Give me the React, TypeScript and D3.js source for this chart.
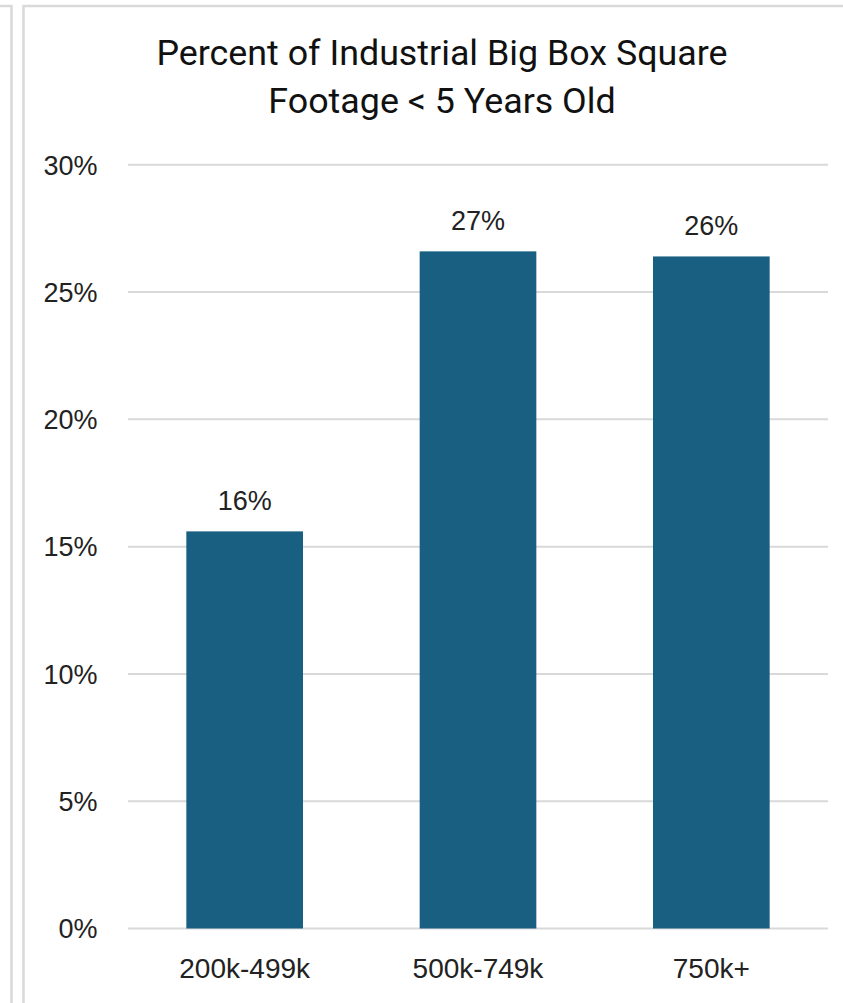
import React from "react";
import * as d3 from "d3";

const categories = ["200k-499k", "500k-749k", "750k+"];
const values = [15.6, 26.6, 26.4];
const valueLabels = ["16%", "27%", "26%"];
const yTicks = [0, 5, 10, 15, 20, 25, 30];
const titleLines = ["Percent of Industrial Big Box Square", "Footage < 5 Years Old"];

const W = 843;
const H = 1003;

export default function App() {
  const x = d3.scaleBand<string>().domain(categories).range([128, 828]).paddingInner(0.5).paddingOuter(0.25);
  const y = d3.scaleLinear().domain([0, 30]).range([928.5, 164.8]);
  const grid = "#d9d9d9";
  const font = "'Liberation Sans', Arial, sans-serif";
  return (
    <svg width={W} height={H} style={{ position: "absolute", left: 0, top: 0, background: "#fff" }}>
      <rect x={0} y={0} width={W} height={H} fill="#fff" />
      {/* frame lines */}
      <path d={`M0,6 H11.5 V${H}`} fill="none" stroke={grid} strokeWidth={2.5} />
      <path d={`M23.5,${H} V6 H${W}`} fill="none" stroke={grid} strokeWidth={2.5} />
      {/* title */}
      {titleLines.map((t, i) => (
        <text key={t} x={442} y={65 + i * 47.5} textAnchor="middle" fontFamily="Roboto, sans-serif" fontSize={35.8} fill="#111">
          {t}
        </text>
      ))}
      {/* gridlines */}
      {yTicks.map((t) => (
        <g key={t}>
          <line x1={128} x2={828} y1={y(t)} y2={y(t)} stroke={grid} strokeWidth={2} />
          <text x={97.5} y={y(t)} dy="0.36em" textAnchor="end" fontFamily={font} fontSize={27} fill="#222">
            {t}%
          </text>
        </g>
      ))}
      {/* bars */}
      {categories.map((c, i) => (
        <g key={c}>
          <rect x={x(c)} y={y(values[i])} width={x.bandwidth()} height={y(0) - y(values[i])} fill="#185f81" />
          <text x={(x(c) as number) + x.bandwidth() / 2} y={y(values[i]) - 21} textAnchor="middle" fontFamily={font} fontSize={27} fill="#222">
            {valueLabels[i]}
          </text>
          <text x={(x(c) as number) + x.bandwidth() / 2} y={978} textAnchor="middle" fontFamily={font} fontSize={28} fill="#222">
            {c}
          </text>
        </g>
      ))}
    </svg>
  );
}
